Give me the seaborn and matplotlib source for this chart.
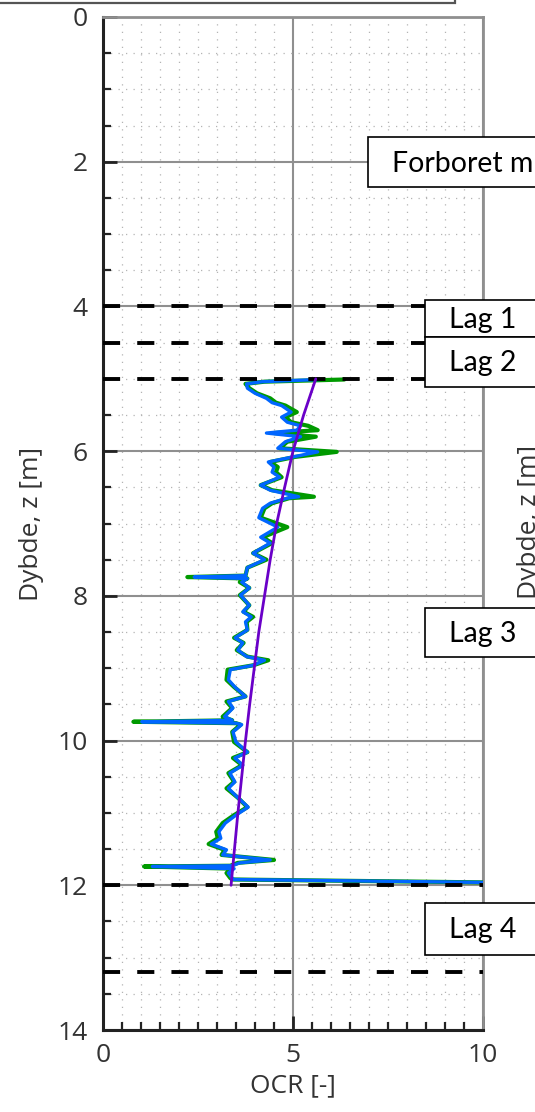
import matplotlib
matplotlib.use("Agg")
import matplotlib.pyplot as plt
from matplotlib.patches import Rectangle
from matplotlib.ticker import MultipleLocator
import seaborn as sns
import pandas as pd

# ---------------- data ----------------
depth = [5.01, 5.04, 5.07, 5.13, 5.20, 5.27, 5.33, 5.37, 5.46, 5.53, 5.60, 5.65, 5.71, 5.75,
         5.80, 5.87, 5.96, 6.01, 6.08, 6.15, 6.22, 6.29, 6.36, 6.47, 6.54, 6.63, 6.65, 6.72,
         6.79, 6.92, 7.05, 7.19, 7.27, 7.41, 7.50, 7.61, 7.72, 7.74, 7.76, 7.81, 7.89, 7.99,
         8.13, 8.22, 8.29, 8.36, 8.47, 8.58, 8.65, 8.75, 8.84, 8.89, 8.96, 9.02, 9.16, 9.26,
         9.39, 9.46, 9.55, 9.67, 9.72, 9.74, 9.76, 9.78, 9.88, 10.02, 10.16, 10.24, 10.34,
         10.45, 10.57, 10.66, 10.79, 10.92, 11.03, 11.14, 11.26, 11.35, 11.43, 11.51, 11.58,
         11.65, 11.69, 11.73, 11.74, 11.77, 11.83, 11.90, 11.92, 11.96]

ocr_blue = [5.70, 4.20, 3.78, 3.80, 4.00, 4.30, 4.45, 4.70, 4.95, 4.70, 4.85, 5.20, 5.10, 4.30,
            5.20, 4.80, 4.60, 5.65, 5.00, 4.35, 4.50, 4.45, 4.65, 4.15, 4.40, 5.15, 4.85, 4.40,
            4.20, 4.10, 4.60, 4.15, 4.40, 3.95, 4.25, 3.80, 3.75, 2.40, 3.80, 3.65, 3.85, 3.62,
            3.85, 3.68, 3.90, 3.75, 3.80, 3.48, 3.68, 3.55, 3.78, 4.25, 3.95, 3.35, 3.30, 3.47,
            3.75, 3.30, 3.42, 3.20, 3.40, 1.02, 3.50, 3.65, 3.42, 3.50, 3.80, 3.47, 3.68,
            3.34, 3.47, 3.30, 3.55, 3.82, 3.50, 3.22, 3.05, 3.10, 2.85, 3.25, 3.15,
            4.40, 3.60, 3.40, 1.30, 3.45, 3.30, 3.40, 3.45, 10.0]

ocr_green = [6.35, 4.25, 3.75, 3.85, 4.05, 4.40, 4.55, 4.80, 5.10, 4.80, 4.95, 5.40, 5.65, 4.50,
             5.60, 4.85, 4.65, 6.15, 5.05, 4.40, 4.60, 4.55, 4.70, 4.15, 4.45, 5.55, 4.90, 4.45,
             4.25, 4.15, 4.85, 4.20, 4.45, 3.95, 4.30, 3.80, 3.75, 2.22, 3.80, 3.60, 3.85, 3.60,
             3.85, 3.70, 3.95, 3.78, 3.80, 3.45, 3.70, 3.52, 3.80, 4.35, 3.95, 3.28, 3.25, 3.45,
             3.75, 3.25, 3.40, 3.15, 3.40, 0.80, 3.50, 3.62, 3.40, 3.45, 3.80, 3.42, 3.66,
             3.30, 3.45, 3.25, 3.55, 3.80, 3.45, 3.15, 2.98, 3.02, 2.78, 3.20, 3.12,
             4.50, 3.55, 3.35, 1.08, 3.40, 3.25, 3.35, 3.40, 10.0]

fit_depth = [5.0, 5.5, 6.0, 6.5, 7.0, 7.5, 8.0, 8.5, 9.0, 9.5, 10.0, 10.5, 11.0, 11.5, 12.0]
fit_ocr = [5.60, 5.28, 5.00, 4.78, 4.57, 4.40, 4.25, 4.10, 3.98, 3.86, 3.75, 3.65, 3.55, 3.46, 3.37]

layer_lines = [4.0, 4.5, 5.0, 12.0, 13.2]
box_labels = ["Forboret m", "Lag 1", "Lag 2", "Lag 3", "Lag 4"]
box_top = [1.66, 3.91, 4.42, 8.17, 12.24]
box_bottom = [2.35, 4.42, 5.11, 8.84, 12.96]
box_left = [6.97, 8.47, 8.47, 8.47, 8.47]

x_ticks = [0, 5, 10]
y_ticks = [0, 2, 4, 6, 8, 10, 12, 14]

df_b = pd.DataFrame({"OCR": ocr_blue, "z": depth})
df_g = pd.DataFrame({"OCR": ocr_green, "z": depth})
df_f = pd.DataFrame({"OCR": fit_ocr, "z": fit_depth})

# ---------------- figure ----------------
sns.set_style("white")
plt.rcParams["font.family"] = ["Open Sans", "DejaVu Sans"]

W, H = 535, 1112
fig = plt.figure(figsize=(W / 100, H / 100), dpi=100)
ax = fig.add_axes([103 / W, 1 - 1030 / H, 380 / W, 1013 / H])

ax.set_xlim(0, 10)
ax.set_ylim(14, 0)
ax.set_xticks(x_ticks)
ax.set_yticks(y_ticks)
ax.xaxis.set_minor_locator(MultipleLocator(0.5))
ax.yaxis.set_minor_locator(MultipleLocator(0.5))

ax.grid(which="minor", color="#b4b4b4", lw=0.9, ls=(0, (1, 5)), zorder=0)
ax.grid(which="major", color="#8f8f8f", lw=1.5, ls="-", zorder=0)
ax.set_axisbelow(True)

sns.lineplot(data=df_g, x="OCR", y="z", sort=False, estimator=None, color="#009a00",
             lw=3.0, ax=ax, zorder=3)
sns.lineplot(data=df_b, x="OCR", y="z", sort=False, estimator=None, color="#0066ff",
             lw=2.4, ax=ax, zorder=4)
sns.lineplot(data=df_f, x="OCR", y="z", sort=False, estimator=None, color="#6a00c8",
             lw=2.0, ax=ax, zorder=5)

for d in layer_lines:
    ax.axhline(d, color="black", lw=2.8, ls=(0, (4.4, 4.4)), zorder=4)

for lab, t, b, l in zip(box_labels, box_top, box_bottom, box_left):
    ax.add_patch(Rectangle((l, t), 8, b - t, facecolor="white", edgecolor="black",
                           lw=1.2, clip_on=False, zorder=6))
    ax.text(l + 0.63, (t + b) / 2 + 0.02, lab, fontsize=20.5, family=["Lato", "DejaVu Sans"],
            va="center", ha="left", color="black", clip_on=False, zorder=7)

for s in ["left", "bottom"]:
    ax.spines[s].set_color("#222222")
    ax.spines[s].set_linewidth(2.2)
for s in ["top", "right"]:
    ax.spines[s].set_color("#8f8f8f")
    ax.spines[s].set_linewidth(2.0)

ax.tick_params(which="major", direction="in", length=10, width=2, color="#222222",
               labelsize=19, labelcolor="#333333", left=True, bottom=True, top=False, right=False)
ax.tick_params(which="minor", direction="in", length=6, width=1.6, color="#222222",
               left=True, bottom=True, top=False, right=False)
ax.tick_params(axis="y", which="major", pad=11)
ax.tick_params(axis="x", which="major", pad=9)

ax.set_xlabel("OCR [-]", fontsize=19, color="#333333", labelpad=4)
ax.set_ylabel("Dybde, z [m]", fontsize=19, color="#333333", labelpad=10)

# cut-off elements at figure edges
fig.patches.append(Rectangle((-0.05, 1 - 3 / H), 455 / W + 0.05, 0.05, transform=fig.transFigure,
                             facecolor="white", edgecolor="#555555", lw=1.6, zorder=10))
fig.text(530 / W, 1 - 522 / H, "Dybde, z [m]", rotation=90, ha="center", va="center",
         fontsize=19, color="#333333")

fig.savefig("out.png", dpi=100)
